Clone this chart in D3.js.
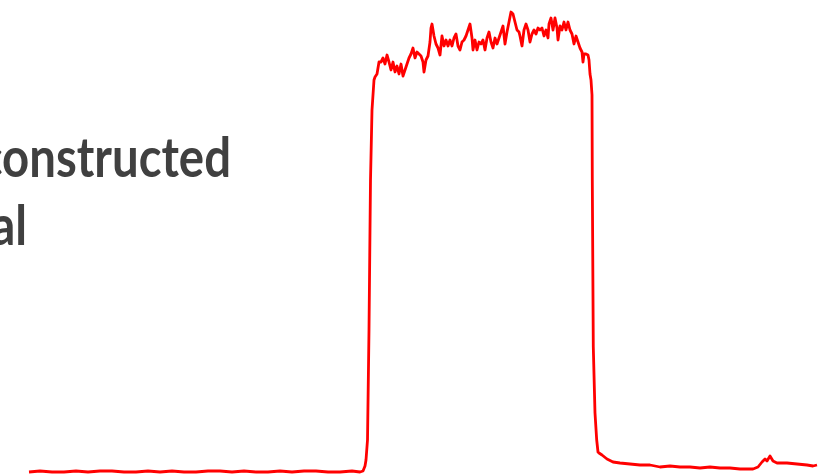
<!DOCTYPE html>
<html>
<head>
<meta charset="utf-8">
<script src="https://cdn.jsdelivr.net/npm/d3@7"></script>
<style>
  body { margin: 0; background: #fff; }
  svg { display: block; }
</style>
</head>
<body>
<div id="chart"></div>
<script>
// sample index along the trace
var samples = [
  0, 11, 23, 35, 47, 59, 71, 83, 95, 107, 119, 131, 143, 155, 167, 179, 191, 203, 215, 227,
  239, 251, 263, 275, 287, 299, 311, 323, 331, 334, 336, 337, 338.5, 340, 341.5, 343, 345, 346, 348,
  350, 352, 354, 356, 358, 360, 362, 364, 366, 368, 370, 372, 374, 376, 378, 380, 382, 384, 386, 388,
  390, 392, 394, 395, 397, 399, 401, 402, 403, 405, 407, 409, 411, 413, 415, 417, 419, 421, 423, 425,
  427, 429, 431, 433, 435, 437, 439, 441, 443, 444, 446, 448, 450, 452, 454, 456, 458, 460, 462, 464,
  466, 468, 470, 472, 474, 476, 478, 480, 482, 484, 486, 488, 490, 491, 493, 495, 497, 499, 501, 503,
  505, 507, 509, 511, 513, 515, 517, 519, 520, 522, 524, 526, 528, 529, 531, 533, 535, 537, 539, 541,
  543, 545, 547, 549, 551, 553, 554, 555, 557, 559, 560, 561, 562, 563, 563.3, 564.3, 566, 567.7, 569, 570,
  573, 578, 584, 591, 601, 611, 621, 631, 641, 651, 661, 671, 681, 691, 701, 711, 724, 729, 733, 736,
  738, 741, 744, 748, 758, 768, 778, 784, 788
];

// reconstructed signal level
var level = [
  0, 1, 0, 0, 1, 0, 1, 1, 0, 0, 1, 0, 1, 0, 0, 1, 1, 0, 1, 0,
  0, 1, 0, 1, 1, 0, 0, 1, 0, 1, 6, 12, 32, 142, 292, 362, 392, 395, 398,
  410, 410, 414, 408, 417, 410, 402, 410, 400, 406, 398, 408, 396, 402, 408, 414, 418, 424, 414, 420,
  418, 416, 410, 400, 412, 416, 430, 444, 448, 436, 428, 424, 417, 436, 426, 432, 426, 432, 426, 434,
  438, 426, 422, 430, 432, 436, 442, 448, 434, 422, 432, 422, 430, 428, 432, 422, 434, 440, 430, 424,
  434, 428, 434, 440, 446, 428, 440, 450, 460, 458, 450, 442, 440, 436, 426, 442, 448, 442, 430, 438,
  442, 438, 444, 442, 444, 436, 442, 434, 448, 454, 442, 454, 444, 432, 446, 442, 450, 442, 450, 442,
  438, 428, 436, 430, 424, 420, 410, 418, 418, 417, 412, 398, 392, 377, 292, 125, 59, 32, 20, 19,
  17, 13, 10, 9, 8, 7, 7, 5, 6, 5, 5, 4, 5, 4, 4, 3, 3, 5, 10, 13,
  11, 16, 11, 9, 9, 8, 7, 6, 7
];

var titleLines = ['Reconstructed', 'Signal'];

var width = 827, height = 474;

var svg = d3.select('#chart').append('svg')
    .attr('width', width)
    .attr('height', height);

var x = d3.scaleLinear().domain([0, 788]).range([29, 817]);
var y = d3.scaleLinear().domain([0, 460]).range([472, 12]);

var data = samples.map(function (s, i) { return { s: s, v: level[i] }; });

var line = d3.line()
    .x(function (d) { return x(d.s); })
    .y(function (d) { return y(d.v); });

svg.append('path')
    .datum(data)
    .attr('d', line)
    .attr('fill', 'none')
    .attr('stroke', '#ff0000')
    .attr('stroke-width', 2.8)
    .attr('stroke-linejoin', 'round');

// title, clipped off at the left edge like the slide
// the slide font is narrower than Lato, so squeeze it horizontally
var title = svg.append('g')
    .attr('font-family', 'Lato, "Open Sans", sans-serif')
    .attr('font-weight', 700)
    .attr('font-size', '56px')
    .attr('fill', '#404040');

var probe = title.append('text').text('onstructed');
var squeeze = 229 / probe.node().getComputedTextLength();
probe.remove();

title.selectAll('text')
    .data(titleLines)
    .enter()
    .append('text')
    .attr('transform', function (d, i) {
        var tx = i === 0 ? 231 : 27;
        return 'translate(' + tx + ',' + (177 + i * 68) + ') scale(' + squeeze + ',1)';
    })
    .attr('text-anchor', 'end')
    .text(function (d) { return d; });
</script>
</body>
</html>
